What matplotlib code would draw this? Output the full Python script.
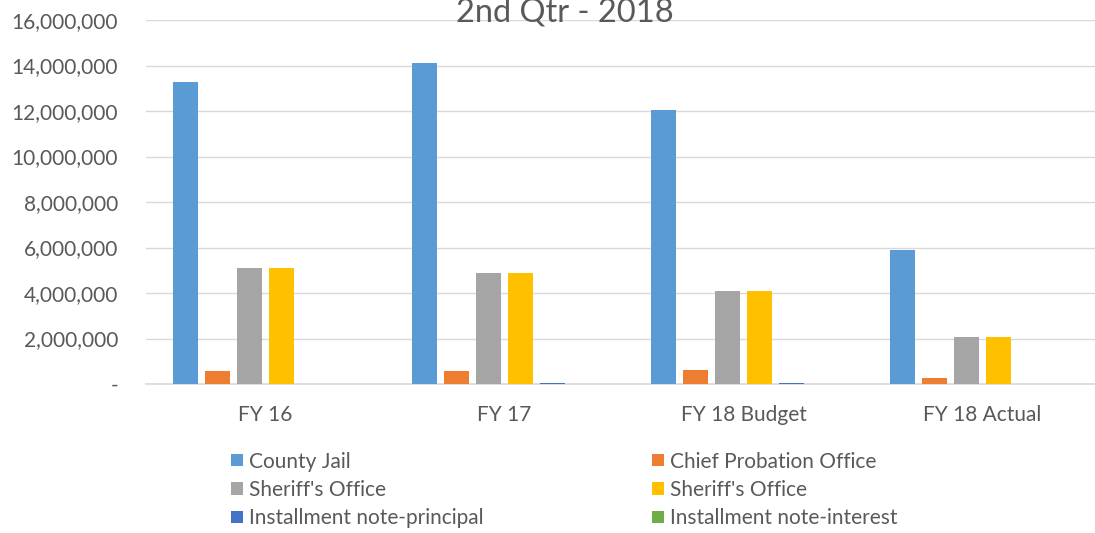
import numpy as np
import matplotlib.pyplot as plt
from matplotlib.ticker import FuncFormatter

# Données
categories = ['FY 16', 'FY 17', 'FY 18 Budget', 'FY 18 Actual']
series_names = ['County Jail', 'Chief Probation Office', "Sheriff's Office",
                "Sheriff's Office", 'Installment note-principal',
                'Installment note-interest']
county_jail = [13270000, 14100000, 12050000, 5900000]
chief_probation = [560000, 570000, 600000, 250000]
sheriff_a = [5100000, 4900000, 4100000, 2050000]
sheriff_b = [5100000, 4900000, 4100000, 2050000]
note_principal = [0, 45000, 45000, 0]
note_interest = [0, 0, 0, 0]
colors = ['#5B9BD5', '#ED7D31', '#A5A5A5', '#FFC000', '#4472C4', '#70AD47']

values = [county_jail, chief_probation, sheriff_a, sheriff_b,
          note_principal, note_interest]

plt.rcParams['font.family'] = ['Lato', 'DejaVu Sans']
txt = '#595959'

fig = plt.figure(figsize=(10.95, 5.33), dpi=100)
ax = fig.add_axes([146 / 1095, 149 / 533, 956 / 1095, 364 / 533])

x = np.arange(len(categories))
step = 0.134
width = 0.105
bars = []
for i, (name, vals) in enumerate(zip(series_names, values)):
    b = ax.bar(x + (i - 2.5) * step, vals, width, color=colors[i], label=name,
               zorder=3)
    bars.append(b)

ax.set_xlim(-0.5, 3.5)
ax.set_ylim(0, 16000000)
ax.set_yticks(np.arange(0, 16000001, 2000000))
ax.yaxis.set_major_formatter(FuncFormatter(
    lambda v, p: '-' if v == 0 else f'{int(v):,}'))
ax.grid(axis='y', color='#D9D9D9', linewidth=1, zorder=0)
for s in ['top', 'right', 'left']:
    ax.spines[s].set_visible(False)
ax.spines['bottom'].set_color('#D9D9D9')
ax.spines['bottom'].set_linewidth(1.2)
ax.set_xticks(x)
ax.set_xticklabels(categories)
ax.tick_params(axis='both', length=0, colors=txt, labelsize=15)
ax.tick_params(axis='x', pad=15)
ax.tick_params(axis='y', pad=20)

fig.text(0.516, (533 - 21) / 533, '2nd Qtr - 2018', ha='center',
         va='baseline', fontsize=23.5, color=txt)

# ordre ligne par ligne comme dans Excel
order = [0, 2, 4, 1, 3, 5]
leg = fig.legend([bars[i] for i in order], [series_names[i] for i in order],
                 loc='upper left', bbox_to_anchor=(0.194, 0.188), ncol=2,
                 frameon=False, fontsize=15, handlelength=0.55,
                 handleheight=0.55, handletextpad=0.3, columnspacing=8.1,
                 labelspacing=0.4)
for t in leg.get_texts():
    t.set_color(txt)

fig.savefig('out.png', dpi=100)
